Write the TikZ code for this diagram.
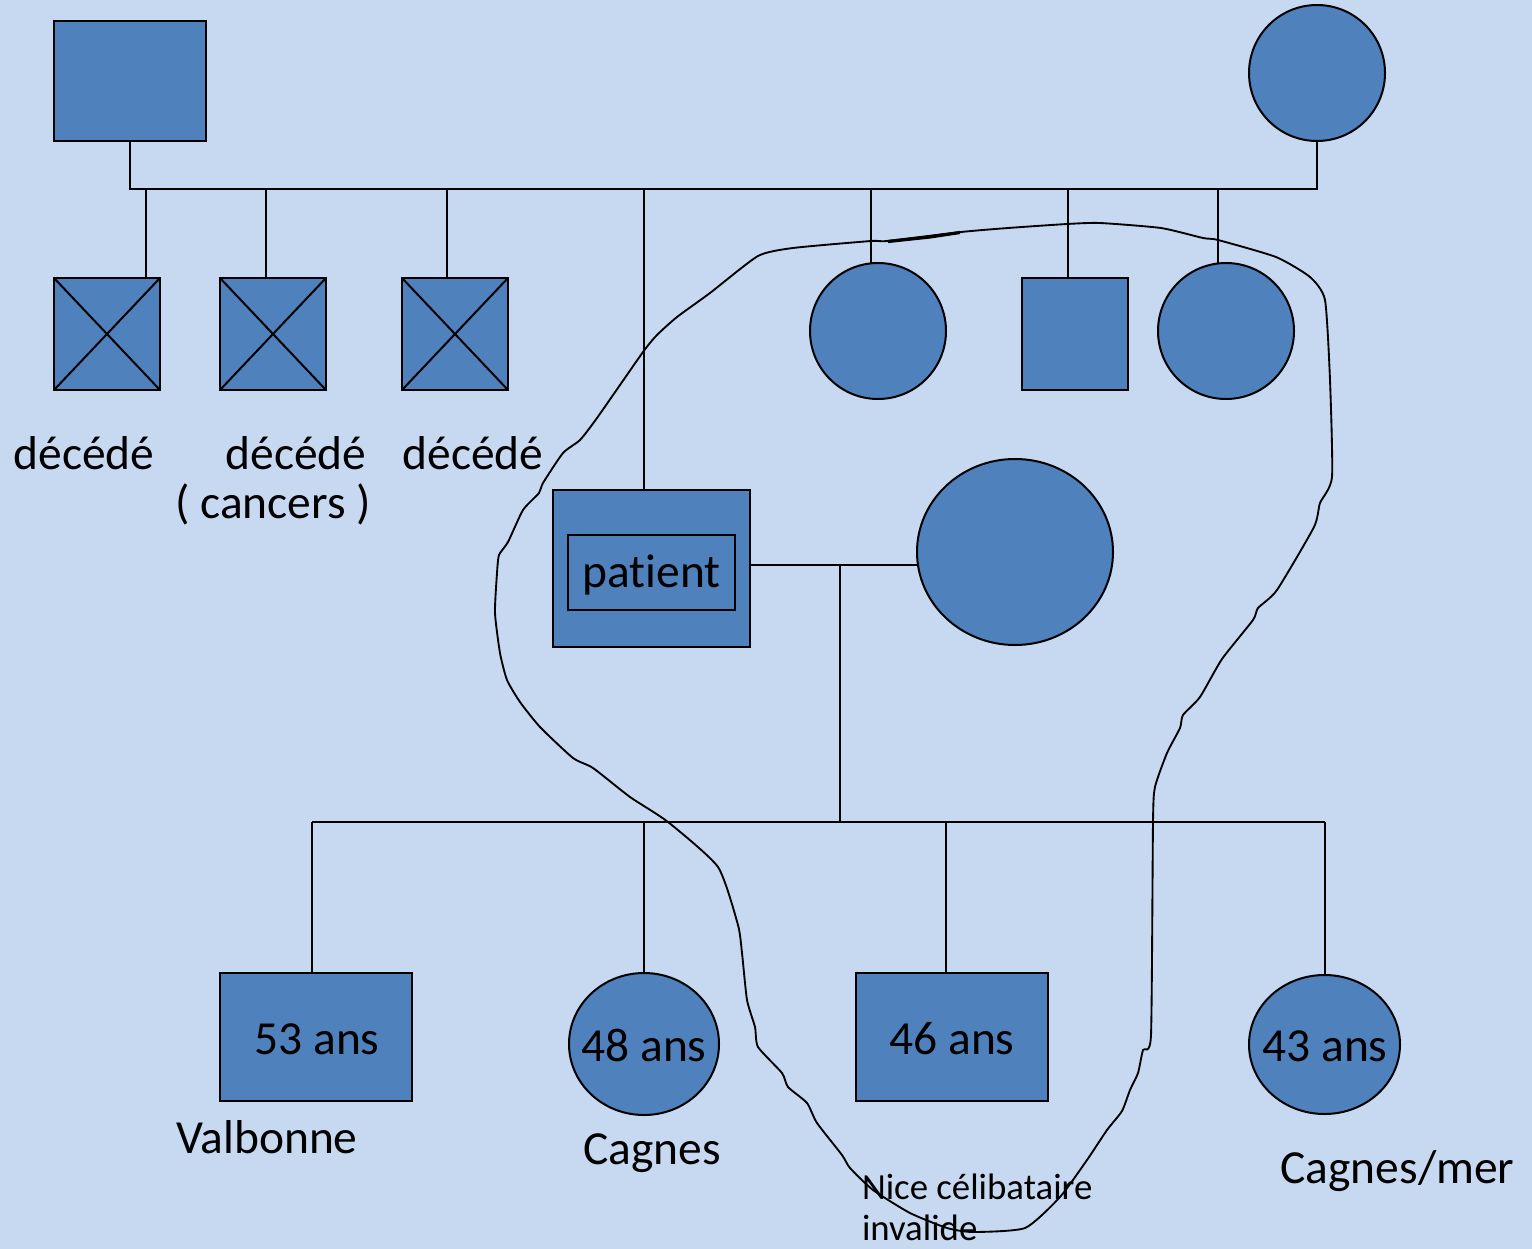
\documentclass[tikz,border=0pt]{standalone}
\usepackage{fontspec}
\setmainfont{Carlito}[Ligatures={NoCommon}]
\usetikzlibrary{shapes.geometric}
\definecolor{bgblue}{RGB}{198,217,240}
\definecolor{symblue}{RGB}{79,129,189}
\begin{document}
\begin{tikzpicture}[x=0.75pt,y=-0.75pt,line width=1.5pt,
  sym/.style={draw=black,fill=symblue,inner sep=0pt,outer sep=0pt},
  box/.style n args={2}{sym,rectangle,minimum width=#1,minimum height=#2},
  circ/.style={sym,circle,minimum size=#1},
  ell/.style n args={2}{sym,ellipse,minimum width=#1,minimum height=#2},
  big/.style={font=\fontsize{35.6}{42}\selectfont,inner sep=0pt,anchor=base},
  small/.style={font=\fontsize{27.6}{33}\selectfont,inner sep=0pt,anchor=base west},
  curve/.style={line width=1.4pt}]
\useasboundingbox (0,0) rectangle (1532,1249);
\fill[bgblue] (0,0) rectangle (1532,1249);

% grandparents
\node[box={114pt}{90pt}] (gf) at (130,81) {};
\node[circ=102pt] (gm) at (1317,73) {};

% generation 2
\node[box={79.5pt}{84pt}] (u1) at (107,334) {};
\node[box={79.5pt}{84pt}] (u2) at (273,334) {};
\node[box={79.5pt}{84pt}] (u3) at (455,334) {};
\foreach \n in {u1,u2,u3}{
  \draw (\n.north west) -- (\n.south east) (\n.north east) -- (\n.south west);
}
\node[circ=102pt] (a1) at (878,331) {};
\node[box={79.5pt}{84pt}] (b1) at (1075,334) {};
\node[circ=102pt] (a2) at (1226,331) {};

\node[box={147.75pt}{117.75pt}] (pat) at (651.5,568.5) {};
\node[box={125.25pt}{56.25pt}] (pin) at (651.5,572.5) {};
\node[ell={147pt}{139.5pt}] (sp) at (1015,552) {};

% generation 3
\node[box={144pt}{96pt}] (k1) at (316,1037) {};
\node[ell={112.5pt}{106.5pt}] (k2) at (644,1044) {};
\node[box={144pt}{96pt}] (k3) at (952,1037) {};
\node[ell={113.25pt}{104.25pt}] (k4) at (1324.5,1044.5) {};

% junction coordinates
\coordinate (top) at (130,189);
\coordinate (d1) at (146,189);
\coordinate (d2) at (266,189);
\coordinate (d3) at (447,189);
\coordinate (d4) at (644,189);
\coordinate (d5) at (871,189);
\coordinate (d6) at (1068,189);
\coordinate (d7) at (1218,189);
\coordinate (mar) at (840,565);
\coordinate (sib) at (840,822);
\coordinate (s1) at (312,822);
\coordinate (s2) at (644,822);
\coordinate (s3) at (946,822);
\coordinate (s4) at (1325,822);

% connectors
\draw (gf.south) -- (top) -| (gm.south);
\draw (d1) -- (d1 |- u1.north);
\draw (d2) -- (d2 |- u2.north);
\draw (d3) -- (d3 |- u3.north);
\draw (d4) -- (d4 |- pat.north);
\draw (d5) -- (d5 |- a1.north);
\draw (d6) -- (d6 |- b1.north);
\draw (d7) -- (d7 |- a2.north);
\draw (mar -| pat.east) -- (mar -| sp.west);
\draw (mar) -- (sib);
\draw (s1) -- (s4);
\draw (s1) -- (s1 |- k1.north);
\draw (s2) -- (s2 |- k2.north);
\draw (s3) -- (s3 |- k3.north);
\draw (s4) -- (s4 |- k4.north);

% freehand outline
\draw[curve] plot[smooth cycle,tension=0.35] coordinates {
(758,256) (793,248) (871,241) (887,241) (961,232) (1008,228) (1067,224)
(1100,223) (1161,228) (1203,238) (1218,240) (1276,257) (1310,277) (1325,300)
(1330,380) (1332,477) (1320,503) (1314,527) (1277,590) (1258,608) (1253,620)
(1222,659) (1200,697) (1183,715) (1180,728) (1167,753) (1155,787) (1153,822)
(1151,1035) (1143,1050) (1138,1073) (1130,1090) (1122,1111) (1107,1130)
(1087,1160) (1060,1197) (1025,1228) (973,1232) (947,1228) (910,1213)
(873,1190) (850,1168) (842,1155) (817,1123) (807,1103) (788,1087) (782,1073)
(758,1047) (755,1027) (747,1000) (742,953) (738,925) (718,867) (668,822)
(630,797) (593,768) (573,758) (540,727) (520,702) (507,680) (500,653)
(495,613) (497,573) (499,555) (508,542) (523,510) (539,493) (543,483)
(563,453) (580,440) (597,418) (643,352) (657,335) (677,317) (710,293)};
\draw[line width=2.4pt] (888,241.5) -- (930,237) -- (960,232.5);

% labels
\node[big] (l1) at (84,469) {décédé};
\node[big] (l2) at (296,469) {décédé};
\node[big] (l2b) at (273,518) {( cancers )};
\node[big] (l3) at (473,469) {décédé};
\node[big] (ptxt) at (651.5,587) {patient};
\node[big] (t1) at (317,1054) {53 ans};
\node[big] (t2) at (644,1061) {48 ans};
\node[big] (t3) at (952,1054) {46 ans};
\node[big] (t4) at (1325,1061) {43 ans};
\node[big] (c1) at (267,1153) {Valbonne};
\node[big] (c2) at (652,1164) {Cagnes};
\node[big] (c4) at (1397.5,1183) {Cagnes/mer};
\node[small] (n1) at (861,1199) {Nice célibataire};
\node[small] (n2) at (861,1240) {invalide};
\end{tikzpicture}
\end{document}
